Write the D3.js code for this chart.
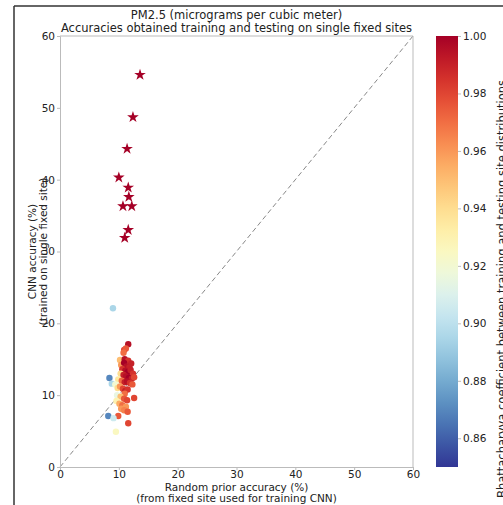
<!DOCTYPE html>
<html><head><meta charset="utf-8">
<script src="https://cdn.jsdelivr.net/npm/d3@7"></script>
<style>body{margin:0;background:#fff}svg{display:block}text{font-family:"DejaVu Sans",sans-serif;fill:#222}</style>
</head><body>
<script>
// Data
const titleLines = ["PM2.5 (micrograms per cubic meter)", "Accuracies obtained training and testing on single fixed sites"];
const xTicks = [0,10,20,30,40,50,60];
const yTicks = [0,10,20,30,40,50,60];
const cTicks = [0.86,0.88,0.90,0.92,0.94,0.96,0.98,1.00];
// stars: [random prior acc, cnn acc, bhattacharyya]
const starX = [13.6,12.4,11.4,10.0,11.6,11.7,10.7,12.2,11.6,11.0];
const starY = [54.6,48.7,44.3,40.3,38.9,37.6,36.3,36.3,33.0,31.9];
const starC = [1,1,1,1,1,1,1,1,1,1];
// circles
const ptX = [11.6,10.9,11.2,10.8,10.2,11.0,11.6,12.1,10.4,10.9,11.3,11.8,10.6,11.1,11.5,12.0,12.4,10.3,10.8,11.2,11.7,12.2,12.6,9.9,10.5,11.0,11.4,11.9,12.3,8.4,8.8,9.4,9.8,10.2,10.7,11.1,11.5,11.0,9.7,10.3,10.9,11.4,12.6,9.6,10.1,10.6,11.2,10.4,10.9,11.5,9.9,8.2,9.1,11.6,9.5,9.0];
const ptY = [17.1,16.3,16.5,15.9,14.9,15.0,14.8,14.4,14.2,14.5,14.0,13.9,13.6,13.4,13.2,13.5,13.0,13.0,12.8,12.6,12.4,12.3,12.5,12.2,12.0,11.8,11.9,11.7,11.5,12.4,11.6,11.5,11.0,11.2,10.9,10.6,10.8,10.2,10.0,9.8,9.5,9.3,9.6,9.2,8.8,8.6,8.4,8.1,7.9,7.7,7.1,7.1,6.8,6.1,4.9,22.1];
const ptC = [0.995,0.98,0.975,0.97,0.95,0.995,0.985,0.99,0.96,1.0,0.995,0.99,0.985,0.995,1.0,0.99,0.985,0.94,0.99,0.995,1.0,0.99,0.98,0.935,0.97,0.99,0.995,0.985,0.975,0.87,0.895,0.92,0.94,0.96,0.98,0.99,0.985,0.97,0.915,0.95,0.975,0.98,0.98,0.93,0.955,0.97,0.96,0.96,0.965,0.975,0.975,0.87,0.905,0.98,0.925,0.895];

const W=503,H=505;
const svg=d3.select("body").append("svg").attr("width",W).attr("height",H);
const L=60,R=413,T=36,B=467;
const x=d3.scaleLinear().domain([0,60]).range([L,R]);
const y=d3.scaleLinear().domain([0,60]).range([B,T]);
const cmin=0.85,cmax=1.0;
const color=v=>d3.interpolateRdYlBu(1-(v-cmin)/(cmax-cmin));

// outer frame lines
svg.append("line").attr("x1",14).attr("x2",W).attr("y1",6).attr("y2",6).attr("stroke","#333").attr("stroke-width",1.5);
svg.append("line").attr("x1",14).attr("x2",14).attr("y1",6).attr("y2",H).attr("stroke","#333").attr("stroke-width",1.5);

// title
svg.selectAll("text.title").data(titleLines).join("text").attr("class","title")
  .attr("x",(L+R)/2).attr("y",(d,i)=>19+i*13).attr("text-anchor","middle").attr("font-size",11.5).text(d=>d);

// diagonal
svg.append("line").attr("x1",x(0)).attr("y1",y(0)).attr("x2",x(60)).attr("y2",y(60))
  .attr("stroke","#888").attr("stroke-dasharray","5,3").attr("stroke-width",1);

// axes
const gx=svg.append("g").attr("transform",`translate(0,${B})`).call(d3.axisBottom(x).tickValues(xTicks).tickSize(3).tickPadding(1));
const gy=svg.append("g").attr("transform",`translate(${L},0)`).call(d3.axisLeft(y).tickValues(yTicks).tickSize(3).tickPadding(2));
[gx,gy].forEach(g=>{g.select(".domain").attr("stroke","#bbb");g.selectAll(".tick line").attr("stroke","#bbb");g.selectAll("text").attr("font-size",10.5).attr("font-family","DejaVu Sans").attr("fill","#222");});
svg.append("line").attr("x1",L).attr("x2",R).attr("y1",T).attr("y2",T).attr("stroke","#bbb");
svg.append("line").attr("x1",R).attr("x2",R).attr("y1",T).attr("y2",B).attr("stroke","#bbb");

// axis labels
svg.append("text").attr("x",(L+R)/2).attr("y",491).attr("text-anchor","middle").attr("font-size",10.5).text("Random prior accuracy (%)");
svg.append("text").attr("x",(L+R)/2).attr("y",502).attr("text-anchor","middle").attr("font-size",10.5).text("(from fixed site used for training CNN)");
svg.append("text").attr("transform",`translate(36,${(T+B)/2}) rotate(-90)`).attr("text-anchor","middle").attr("font-size",10.5).text("CNN accuracy (%)");
svg.append("text").attr("transform",`translate(47,${(T+B)/2}) rotate(-90)`).attr("text-anchor","middle").attr("font-size",10.5).text("(trained on single fixed site)");

// points
const pts=ptX.map((v,i)=>({x:v,y:ptY[i],c:ptC[i]}));
svg.append("g").selectAll("circle").data(pts).join("circle")
  .attr("cx",d=>x(d.x)).attr("cy",d=>y(d.y)).attr("r",3.2).attr("fill",d=>color(d.c));
const stars=starX.map((v,i)=>({x:v,y:starY[i],c:starC[i]}));
const starPath=d3.symbol(d3.symbolStar,42)();
svg.append("g").selectAll("path").data(stars).join("path")
  .attr("transform",d=>`translate(${x(d.x)},${y(d.y)})`).attr("d",starPath).attr("fill",d=>color(d.c));

// colorbar
const cbX=436,cbW=22;
const cy=d3.scaleLinear().domain([cmin,cmax]).range([B,T]);
const defs=svg.append("defs");
const grad=defs.append("linearGradient").attr("id","cg").attr("x1",0).attr("y1",1).attr("x2",0).attr("y2",0);
d3.range(0,1.0001,0.05).forEach(t=>grad.append("stop").attr("offset",t).attr("stop-color",color(cmin+t*(cmax-cmin))));
svg.append("rect").attr("x",cbX).attr("y",T).attr("width",cbW).attr("height",B-T).attr("fill","url(#cg)");
const gc=svg.append("g").attr("transform",`translate(${cbX+cbW},0)`).call(d3.axisRight(cy).tickValues(cTicks).tickFormat(d3.format(".2f")).tickSize(3).tickPadding(2));
gc.select(".domain").remove();
gc.selectAll(".tick line").attr("stroke","#bbb");
gc.selectAll("text").attr("font-size",10.5).attr("font-family","DejaVu Sans").attr("fill","#222");
svg.append("text").attr("transform",`translate(506,80) rotate(-90)`).attr("text-anchor","end").attr("font-size",11.5)
  .text("Bhattacharyya coefficient between training and testing site distributions");
</script>
</body></html>
